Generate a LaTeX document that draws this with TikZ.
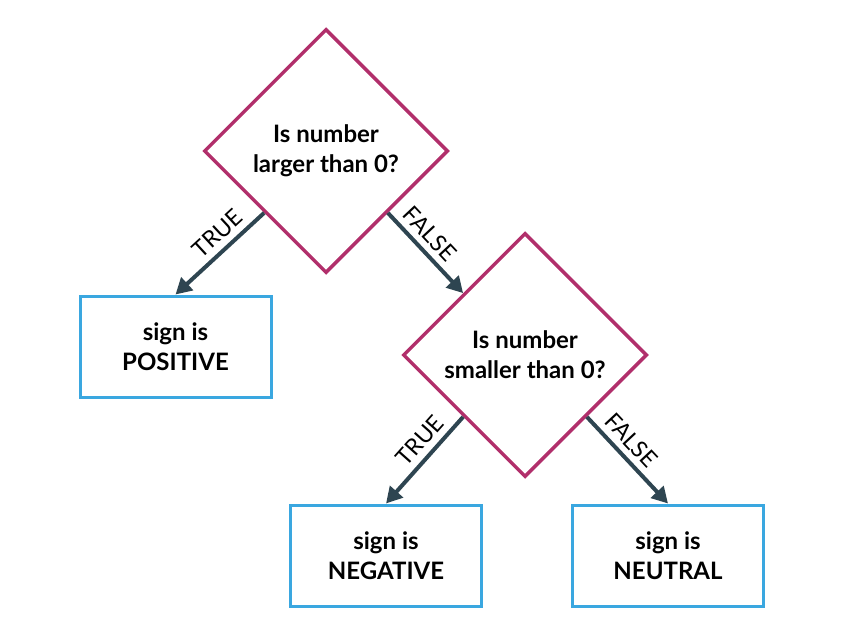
\documentclass[tikz,border=0pt]{standalone}
\usepackage{fontspec}
\setmainfont{Lato}
\usepackage{tikz}
\usetikzlibrary{shapes.geometric,arrows.meta}
\definecolor{decisioncol}{HTML}{B12F6B}
\definecolor{boxcol}{HTML}{3AA7E0}
\definecolor{arrowcol}{HTML}{2E4551}
\tikzstyle{decision} = [draw=decisioncol, line width=3.5pt, diamond, aspect=1, minimum width=244pt, minimum height=244pt, inner sep=0pt, align=center, font=\fontsize{24}{30}\selectfont\bfseries]
\tikzstyle{signbox} = [draw=boxcol, line width=3pt, rectangle, minimum width=191pt, minimum height=101pt, align=center, font=\fontsize{24}{30}\selectfont\bfseries]
\tikzstyle{branch} = [draw=arrowcol, line width=4pt, -{Triangle[length=16pt,width=17pt]}]
\tikzstyle{branchlabel} = [sloped, above, pos=0.4, inner sep=6pt, font=\fontsize{23}{26}\selectfont]

\begin{document}
\begin{tikzpicture}[x=1pt,y=-1pt]
\useasboundingbox (0,0) rectangle (845,621);
\node [decision] (larger) at (326,151) {Is number\\larger than 0?};
\node [decision] (smaller) at (525,355) {Is number\\smaller than 0?};
\node [signbox] (positive) at (175.5,346.5) {sign is\\POSITIVE};
\node [signbox] (negative) at (386,555.5) {sign is\\NEGATIVE};
\node [signbox] (neutral) at (668,555.5) {sign is\\NEUTRAL};
\draw [branch] (larger.south west) -- node[branchlabel] {TRUE} (positive.north);
\draw [branch] (larger.south east) -- node[branchlabel] {FALSE} (smaller.north west);
\draw [branch] (smaller.south west) -- node[branchlabel] {TRUE} (negative.north);
\draw [branch] (smaller.south east) -- node[branchlabel] {FALSE} (neutral.north);
\end{tikzpicture}
\end{document}
